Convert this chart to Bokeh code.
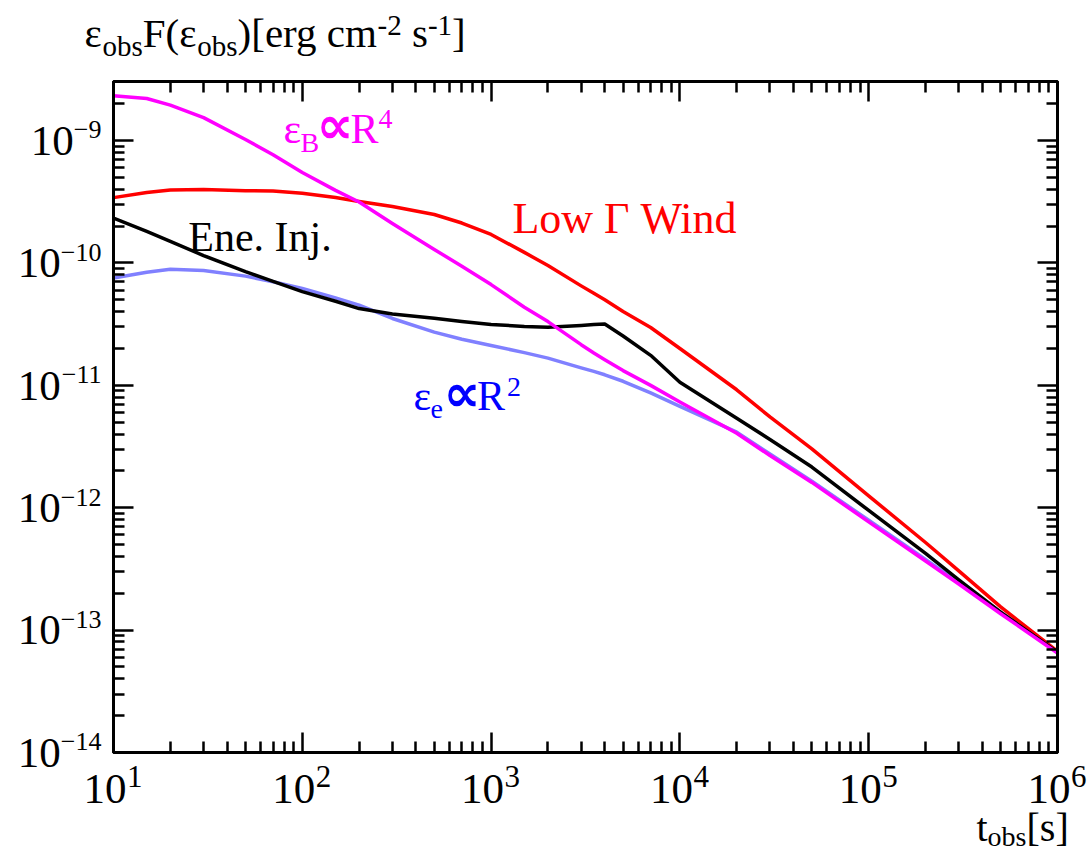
from math import log10
from bokeh.plotting import figure
from bokeh.models import Range1d, LogAxis, FixedTicker, CustomJSTickFormatter
from bokeh.core.properties import value
from bokeh.embed import file_html
from bokeh.resources import INLINE

# ---------------- data ----------------
t_obs = [10, 15, 20, 30, 50, 70, 100, 150, 200, 300, 500, 700, 1000, 1500, 2000,
         3000, 3500, 4000, 5000, 7000, 1e4, 2e4, 3e4, 5e4, 1e5, 2e5, 3e5, 5e5, 1e6]

low_gamma_wind = [3.42e-10, 3.76e-10, 3.94e-10, 3.98e-10, 3.90e-10, 3.87e-10, 3.72e-10,
                  3.43e-10, 3.18e-10, 2.89e-10, 2.49e-10, 2.12e-10, 1.71e-10, 1.22e-10,
                  9.52e-11, 6.5e-11, 5.66e-11, 5.0e-11, 4.01e-11, 2.97e-11, 2.0e-11,
                  9.2e-12, 5.52e-12, 3.03e-12, 1.25e-12, 5.2e-13, 3.05e-13, 1.55e-13, 6.7e-14]

ene_inj = [2.33e-10, 1.81e-10, 1.50e-10, 1.15e-10, 8.51e-11, 7.08e-11, 5.84e-11,
           4.87e-11, 4.24e-11, 3.83e-11, 3.53e-11, 3.32e-11, 3.14e-11, 3.03e-11,
           2.99e-11, 3.09e-11, 3.14e-11, 3.17e-11, 2.53e-11, 1.76e-11, 1.06e-11,
           5.38e-12, 3.61e-12, 2.15e-12, 9.5e-13, 4.23e-13, 2.57e-13, 1.40e-13, 6.6e-14]

eps_B_R4 = [2.33e-9, 2.21e-9, 1.95e-9, 1.54e-9, 1.02e-9, 7.66e-10, 5.48e-10,
            3.92e-10, 3.15e-10, 2.10e-10, 1.29e-10, 9.4e-11, 6.66e-11, 4.35e-11,
            3.32e-11, 2.15e-11, 1.84e-11, 1.62e-11, 1.32e-11, 1.0e-11, 7.31e-12,
            4.06e-12, 2.67e-12, 1.61e-12, 7.67e-13, 3.67e-13, 2.38e-13, 1.36e-13, 6.5e-14]

eps_e_R2 = [7.53e-11, 8.39e-11, 8.9e-11, 8.67e-11, 7.81e-11, 7.03e-11, 6.18e-11,
            5.18e-11, 4.53e-11, 3.52e-11, 2.72e-11, 2.38e-11, 2.12e-11, 1.85e-11,
            1.67e-11, 1.39e-11, 1.30e-11, 1.22e-11, 1.08e-11, 8.69e-12, 6.74e-12,
            4.15e-12, 2.75e-12, 1.65e-12, 7.9e-13, 3.78e-13, 2.45e-13, 1.40e-13, 6.6e-14]

x_major = [1e1, 1e2, 1e3, 1e4, 1e5, 1e6]
x_exp_labels = ["1", "2", "3", "4", "5", "6"]
x_minor = [k * 10.0 ** e for e in range(1, 6) for k in range(2, 10)]

y_major = [1e-14, 1e-13, 1e-12, 1e-11, 1e-10, 1e-9]
y_exp_labels = ["\u221214", "\u221213", "\u221212", "\u221211", "\u221210", "\u22129"]
y_minor = [k * 10.0 ** e for e in range(-14, -9) for k in range(2, 10)] + [2e-9]

x_lo, x_hi = 10, 1e6
y_lo, y_hi = 1e-14, 3.04e-9

# label anchors (data coordinates of the baseline-left point of each label)
lab_B = (79.5, 9.63e-10)
lab_ene = (24.9, 1.24e-10)
lab_wind = (1297, 1.74e-10)
lab_e = (388, 6.25e-12)

FONT = "Liberation Serif"

# ---------------- layout ----------------
W, H = 1087, 854
FL, FT, FW, FH = 113, 81, 944, 671
FR, FB = FL + FW, FT + FH

p = figure(width=W, height=H, x_axis_type="log", y_axis_type="log",
           x_range=Range1d(x_lo, x_hi), y_range=Range1d(y_lo, y_hi),
           output_backend="svg", toolbar_location=None,
           min_border_left=FL, min_border_right=W - FR,
           min_border_top=FT, min_border_bottom=H - FB)
p.grid.visible = False
p.outline_line_color = "black"
p.outline_line_width = 3
p.background_fill_color = "white"
p.border_fill_color = "white"

p.add_layout(LogAxis(), "above")
p.add_layout(LogAxis(), "right")

for ax in p.xaxis:
    ax.ticker = FixedTicker(ticks=x_major, minor_ticks=x_minor)
for ax in p.yaxis:
    ax.ticker = FixedTicker(ticks=y_major, minor_ticks=y_minor)
for ax in list(p.xaxis) + list(p.yaxis):
    ax.formatter = CustomJSTickFormatter(code="return ''")
    ax.major_tick_in = 20
    ax.major_tick_out = 0
    ax.minor_tick_in = 11
    ax.minor_tick_out = 0
    ax.major_tick_line_width = 2.5
    ax.minor_tick_line_width = 2.5
    ax.axis_line_width = 3
    ax.major_label_standoff = 0
    ax.major_label_text_font_size = "1px"

# ---------------- curves ----------------
LW = 3.5
p.line(t_obs, eps_e_R2, line_color="#8080ff", line_width=LW, line_join="round")
p.line(t_obs, low_gamma_wind, line_color="#ff0000", line_width=LW, line_join="round")
p.line(t_obs, ene_inj, line_color="#000000", line_width=LW, line_join="round")
p.line(t_obs, eps_B_R4, line_color="#ff00ff", line_width=LW, line_join="round")

# ---------------- text helpers ----------------
PXX = FW / log10(x_hi / x_lo)
PXY = FH / log10(y_hi / y_lo)
BASE_FIX = 0.335   # text glyphs come out centred on the anchor; move the baseline back


def sx(x):
    return FL + PXX * log10(x / x_lo)


def sy(y):
    return FB - PXY * log10(y / y_lo)


AX, AY = 1e3, 1e-11   # interior anchor used for texts placed around the frame


def put(s, x, y, dx, dy, size, color="black", align="left", font=FONT, style="normal"):
    p.text(x=[x], y=[y], text=[s], x_offset=dx, y_offset=dy - BASE_FIX * size,
           text_font=value(font), text_font_size=value(f"{size}px"),
           text_font_style=style, text_color=color, text_align=align,
           text_baseline="alphabetic", level="overlay")


def put_px(s, px, py, size, color="black", align="left", font=FONT, style="normal"):
    put(s, AX, AY, px - sx(AX), py - sy(AY), size, color, align, font, style)


ADV = {"\u03b5": 0.44, "o": 0.5, "b": 0.5, "s": 0.389, "F": 0.556, "(": 0.333, ")": 0.333,
       "[": 0.333, "]": 0.333, "e": 0.444, "r": 0.333, "g": 0.5, " ": 0.25, "c": 0.444,
       "m": 0.778, "-": 0.333, "t": 0.278, "\u2212": 0.564}


def adv(s, size):
    return sum(ADV.get(c, 0.5) for c in s) * size


def chain(parts, x0, base, main, small, sub_dy, sup_dy):
    x = x0
    for s, kind in parts:
        if kind == "gap":
            x += adv(" ", main)
        elif kind == "m":
            put_px(s, x, base, main)
            x += adv(s, main)
        else:
            put_px(s, x, base + (sub_dy if kind == "sub" else sup_dy), small)
            x += adv(s, small)


# tick labels
for v, e in zip(x_major, x_exp_labels):
    X = sx(v)
    put_px("10", X + 13, FB + 50.5, 43, align="right")
    put_px(e, X + 13.5, FB + 34.5, 31)

for v, e in zip(y_major, y_exp_labels):
    Y = sy(v)
    put_px(e, FL - 12, Y - 2, 26, align="right")
    put_px("10", FL - 12 - adv(e, 26), Y + 14.7, 43, align="right")

# y-axis title
title_parts = [("\u03b5", "m"), ("obs", "sub"), ("F(\u03b5", "m"), ("obs", "sub"),
               (")[erg cm", "m"), ("-2", "sup"), ("", "gap"), ("s", "m"), ("-1", "sup"),
               ("]", "m")]
chain(title_parts, 84, 46.7, 41, 29, 8.3, -11.7)

# x-axis title
xlab_parts = [("t", "m"), ("obs", "sub"), ("[s]", "m")]
chain(xlab_parts, 976, 840, 40, 28, 5.5, -12)

# curve labels
put("Ene. Inj.", *lab_ene, 0, 0, 42)
put("Low \u0393 Wind", *lab_wind, 0, 0, 44, color="#ff0000")

for s, dx, dy, sz, f, st in [("\u03b5", 0, 0, 42, FONT, "normal"), ("B", 17, 9, 28, FONT, "normal"),
                             ("\u221d", 33, 0, 52, "DejaVu Sans", "bold"),
                             ("R", 67, 0, 42, FONT, "normal"), ("4", 95, -14, 28, FONT, "normal")]:
    put(s, *lab_B, dx, dy, sz, color="#ff00ff", font=f, style=st)

for s, dx, dy, sz, f, st in [("\u03b5", 0, 0, 42, FONT, "normal"), ("e", 17, 8, 28, FONT, "normal"),
                             ("\u221d", 30, 0, 52, "DejaVu Sans", "bold"),
                             ("R", 63.5, 0, 42, FONT, "normal"), ("2", 93.5, -14, 28, FONT, "normal")]:
    put(s, *lab_e, dx, dy, sz, color="#0000ff", font=f, style=st)

open("out.html", "w").write(file_html(p, INLINE))
